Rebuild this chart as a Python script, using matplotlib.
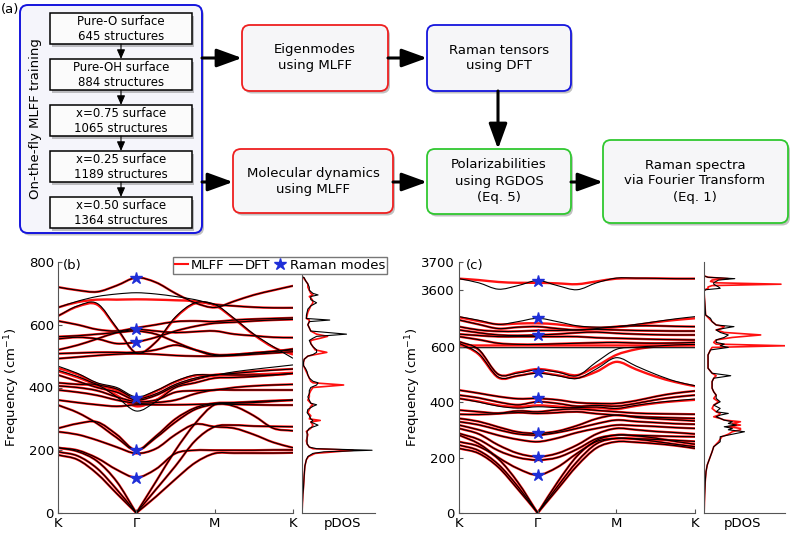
import numpy as np
import matplotlib
matplotlib.use("Agg")
import matplotlib.pyplot as plt
from matplotlib.path import Path
from matplotlib.patches import PathPatch, FancyBboxPatch, FancyArrowPatch
from matplotlib.lines import Line2D

plt.rcParams['font.family'] = ['DejaVu Sans']

# ---------------- data ----------------
k_points = [0, 0.25, 0.5, 0.75, 1, 1.25, 1.5, 1.75, 2, 2.25, 2.5, 2.75, 3]
k_ticks = [0, 1, 2, 3]
k_labels = ['K', 'Γ', 'M', 'K']
gamma_k = 1

# (b) bands, DFT
dft_b = [
    [185, 170, 125, 62, 0, 52, 108, 160, 190, 191, 191, 191, 192],
    [195, 182, 142, 75, 0, 75, 150, 230, 275, 280, 277, 276, 275],
    [208, 196, 165, 100, 0, 100, 200, 285, 345, 340, 310, 270, 262],
    [208, 200, 175, 138, 113, 140, 190, 200, 200, 200, 200, 201, 201],
    [259, 250, 232, 210, 190, 205, 250, 283, 275, 270, 250, 225, 208],
    [270, 285, 290, 250, 200, 240, 290, 330, 346, 346, 345, 344, 344],
    [344, 320, 285, 240, 200, 245, 300, 335, 350, 352, 355, 358, 360],
    [360, 352, 345, 340, 345, 345, 345, 346, 348, 350, 352, 356, 360],
    [392, 385, 375, 360, 350, 352, 360, 380, 392, 392, 392, 392, 392],
    [405, 400, 390, 370, 355, 360, 385, 390, 392, 400, 405, 408, 410],
    [415, 410, 408, 370, 325, 355, 400, 415, 430, 432, 435, 440, 445],
    [440, 420, 400, 385, 360, 375, 405, 425, 440, 440, 440, 440, 445],
    [455, 435, 410, 395, 365, 380, 410, 430, 440, 445, 450, 455, 459],
    [468, 445, 415, 400, 370, 390, 420, 440, 440, 450, 458, 465, 472],
    [492, 497, 502, 506, 508, 506, 502, 500, 500, 502, 506, 510, 514],
    [508, 510, 512, 512, 512, 520, 535, 520, 505, 505, 510, 515, 523],
    [520, 535, 555, 575, 585, 580, 575, 578, 580, 570, 565, 560, 559],
    [555, 560, 555, 540, 545, 560, 580, 595, 605, 608, 612, 615, 617],
    [562, 565, 570, 575, 580, 570, 545, 520, 502, 505, 510, 515, 520],
    [612, 600, 585, 580, 590, 600, 610, 612, 610, 615, 618, 620, 622],
    [628, 660, 668, 590, 510, 545, 625, 670, 665, 620, 570, 530, 493],
    [655, 675, 690, 698, 702, 698, 690, 680, 665, 660, 656, 654, 654],
    [720, 710, 705, 725, 750, 735, 700, 670, 655, 675, 695, 710, 724],
]
# (b) bands, MLFF (only the ones that differ visibly from DFT)
mlff_b = [row[:] for row in dft_b]
mlff_b[10] = [415, 410, 405, 375, 340, 360, 400, 415, 430, 432, 435, 440, 445]
mlff_b[12] = [452, 432, 408, 392, 362, 378, 408, 428, 438, 440, 442, 444, 447]
mlff_b[13] = [462, 442, 412, 395, 365, 388, 418, 438, 440, 446, 452, 456, 459]
mlff_b[20] = [628, 658, 664, 588, 510, 545, 622, 668, 662, 618, 568, 528, 505]
mlff_b[21] = [655, 672, 680, 680, 681, 680, 678, 675, 665, 660, 656, 654, 654]
raman_b = [113, 200, 365, 545, 585, 750]

# (c) bands, DFT
dft_c = [
    [233, 215, 165, 85, 0, 85, 170, 235, 257, 255, 250, 243, 233],
    [245, 225, 175, 95, 0, 95, 185, 250, 269, 266, 258, 248, 239],
    [257, 240, 195, 110, 0, 110, 205, 262, 281, 278, 270, 258, 248],
    [281, 250, 200, 160, 137, 165, 215, 258, 269, 268, 265, 262, 258],
    [287, 265, 225, 200, 191, 200, 230, 268, 281, 280, 278, 276, 275],
    [305, 285, 245, 215, 203, 215, 245, 285, 305, 300, 294, 290, 285],
    [317, 300, 280, 265, 257, 270, 290, 305, 317, 315, 312, 308, 305],
    [329, 318, 300, 285, 281, 290, 305, 322, 335, 330, 326, 322, 320],
    [341, 330, 310, 292, 287, 295, 315, 340, 353, 345, 340, 336, 332],
    [356, 355, 358, 362, 359, 362, 365, 358, 353, 348, 345, 343, 341],
    [371, 365, 360, 368, 365, 372, 375, 370, 365, 360, 358, 357, 356],
    [413, 400, 385, 378, 383, 380, 380, 382, 377, 388, 398, 405, 411],
    [425, 415, 400, 390, 401, 395, 385, 388, 385, 395, 408, 418, 425],
    [443, 432, 420, 412, 413, 408, 398, 395, 395, 405, 420, 432, 440],
    [612, 575, 490, 495, 504, 495, 485, 520, 560, 530, 500, 475, 459],
    [618, 590, 500, 505, 516, 508, 495, 545, 590, 598, 602, 606, 608],
    [596, 596, 596, 596, 596, 596, 596, 596, 596, 596, 596, 596, 596],
    [636, 625, 612, 608, 608, 610, 612, 614, 615, 613, 612, 613, 615],
    [645, 640, 636, 636, 636, 636, 636, 632, 630, 628, 626, 625, 624],
    [660, 650, 642, 640, 642, 645, 650, 652, 648, 645, 643, 642, 642],
    [672, 660, 655, 655, 658, 658, 660, 662, 660, 658, 657, 656, 656],
    [696, 680, 665, 670, 672, 665, 660, 665, 672, 675, 675, 673, 672],
    [708, 695, 680, 690, 702, 690, 675, 670, 672, 680, 690, 700, 708],
    [3640, 3625, 3602, 3615, 3633, 3615, 3600, 3625, 3642, 3642, 3641, 3640, 3640],
]
mlff_c = [row[:] for row in dft_c]
mlff_c[11] = [413, 402, 388, 382, 388, 384, 378, 380, 375, 386, 396, 403, 408]
mlff_c[14] = [612, 572, 488, 495, 506, 497, 487, 510, 545, 518, 492, 472, 457]
mlff_c[15] = [618, 588, 500, 507, 519, 510, 497, 530, 570, 590, 600, 604, 606]
mlff_c[16] = [604, 604, 604, 604, 604, 604, 604, 604, 604, 604, 604, 604, 604]
mlff_c[22] = [706, 692, 680, 683, 684, 680, 672, 668, 670, 678, 688, 696, 702]
mlff_c[23] = [3640, 3635, 3628, 3625, 3625, 3623, 3620, 3630, 3640, 3641, 3641, 3640, 3640]
raman_c = [137, 203, 287, 413, 510, 640, 702, 3633]

# pDOS (b)
freq_b = [0, 20, 40, 60, 80, 100, 120, 150, 160, 170,
          180, 190, 195, 200, 205, 210, 220, 230, 240, 250,
          260, 270, 280, 290, 295, 300, 310, 320, 330, 340,
          345, 350, 360, 370, 380, 390, 400, 408, 415, 420,
          430, 440, 450, 460, 470, 480, 490, 500, 505, 512,
          520, 530, 540, 550, 557, 563, 570, 580, 590, 600,
          610, 615, 620, 630, 640, 650, 660, 670, 680, 690,
          695, 700, 710, 720, 730, 740, 750, 753]
dos_b_dft = [0, .004, .008, .012, .02, .025, .03, .04, .05, .06,
             .08, .15, .3, .96, .2, .1, .07, .07, .07, .07,
             .07, .1, .22, .12, .15, .12, .1, .07, .08, .15,
             .2, .12, .1, .08, .1, .1, .12, .2, .22, .15,
             .1, .08, .07, .05, .02, .02, .03, .08, .15, .2,
             .2, .15, .12, .1, .15, .2, .61, .12, .1, .08,
             .1, .38, .06, .06, .07, .08, .12, .2, .12, .12,
             .22, .15, .1, .1, .08, .05, .03, 0]
dos_b_mlff = [0, .004, .008, .012, .02, .025, .03, .04, .05, .06,
              .09, .18, .45, .7, .15, .1, .07, .06, .07, .08,
              .06, .12, .15, .12, .25, .1, .12, .08, .1, .12,
              .15, .12, .08, .1, .1, .12, .15, .57, .15, .12,
              .1, .08, .06, .04, .02, .02, .03, .08, .18, .34,
              .18, .15, .12, .12, .25, .35, .2, .12, .1, .08,
              .1, .1, .06, .07, .08, .1, .12, .15, .14, .1,
              .15, .12, .1, .08, .08, .05, .02, 0]

# pDOS (c)
freq_c = [0, 5, 65, 113, 149, 173, 197, 221, 239, 257,
          275, 284, 293, 300, 305, 311, 317, 323, 329, 335,
          341, 347, 353, 359, 365, 377, 389, 401, 413, 425,
          437, 450, 462, 474, 486, 495, 504, 522, 546, 570,
          588, 597, 603, 609, 615, 624, 633, 642, 651, 660,
          666, 672, 678, 690, 702, 714, 3595, 3600, 3605, 3610,
          3615, 3620, 3625, 3630, 3635, 3640, 3645, 3650]
dos_c_dft = [0, .002, .008, .015, .025, .04, .07, .1, .12, .2,
             .2, .35, .5, .3, .35, .25, .4, .3, .35, .25,
             .2, .15, .2, .3, .15, .2, .12, .2, .15, .15,
             .12, .1, .1, .1, .12, .33, .1, .05, .05, .05,
             .08, .3, .2, .25, .15, .15, .25, .3, .2, .15,
             .25, .37, .15, .1, .08, .02, 0, .02, .2, .18,
             .15, .12, .12, .15, .18, .38, .05, 0]
dos_c_mlff = [0, .002, .008, .015, .025, .04, .07, .1, .12, .18,
              .22, .3, .35, .45, .45, .3, .45, .35, .45, .25,
              .2, .12, .18, .2, .15, .1, .12, .18, .12, .15,
              .12, .1, .1, .1, .12, .15, .1, .05, .05, .05,
              .08, .1, 1.0, .15, .12, .15, .35, .7, .25, .15,
              .22, .25, .15, .1, .06, .02, 0, .01, .05, .05,
              .1, .95, .15, .08, .1, .3, .05, 0]

RED = '#ff1010'
STAR = '#1f2fd8'


def band_path(xs, ys):
    # smooth curve through the read points, split where a branch touches 0
    xs = np.asarray(xs, float)
    ys = np.asarray(ys, float)
    n = len(xs)
    cuts = [0] + [i for i in range(1, n - 1) if ys[i] == 0] + [n - 1]
    verts, codes = [], []
    for a, b in zip(cuts[:-1], cuts[1:]):
        px, py = xs[a:b + 1], ys[a:b + 1]
        tx, ty = np.gradient(px), np.gradient(py)
        verts.append((px[0], py[0]))
        codes.append(Path.MOVETO)
        for i in range(len(px) - 1):
            verts += [(px[i] + tx[i] / 3, py[i] + ty[i] / 3),
                      (px[i + 1] - tx[i + 1] / 3, py[i + 1] - ty[i + 1] / 3),
                      (px[i + 1], py[i + 1])]
            codes += [Path.CURVE4] * 3
    return Path(verts, codes)


def fwd(v):
    v = np.asarray(v, float)
    return np.where(v < 760, v, np.maximum(v - 2795, 760))


def inv(y):
    y = np.asarray(y, float)
    return np.where(y < 760, y, y + 2795)


def style_axes(ax):
    for s in ['top', 'right']:
        ax.spines[s].set_visible(False)
    for s in ['left', 'bottom']:
        ax.spines[s].set_color('#555555')
        ax.spines[s].set_linewidth(0.8)
    ax.tick_params(direction='in', length=3, labelsize=9.5, color='#555555', pad=3)


def draw_bands(ax, dft, mlff, raman):
    for row in mlff:
        ax.add_patch(PathPatch(band_path(k_points, row), fc='none', ec=RED, lw=1.7))
    for row in dft:
        ax.add_patch(PathPatch(band_path(k_points, row), fc='none', ec='black', lw=0.8))
    ax.plot([gamma_k] * len(raman), raman, ls='none', marker='*', color=STAR, ms=9, zorder=5)
    ax.set_xlim(0, 3)
    ax.set_xticks(k_ticks)
    ax.set_xticklabels(k_labels)
    style_axes(ax)
    ax.set_ylabel('Frequency (cm$^{-1}$)', fontsize=9.5, va='center')
    ax.yaxis.set_label_coords(-0.196, 0.5)


def draw_dos(ax, freq, dft, mlff, label_x):
    ax.plot(mlff, freq, color=RED, lw=1.2)
    ax.plot(dft, freq, color='black', lw=0.8)
    ax.set_xlim(0, 1)
    style_axes(ax)
    ax.set_yticks([])
    ax.set_xticks([label_x])
    ax.set_xticklabels(['pDOS'])
    ax.tick_params(axis='x', length=0)


W, H = 794, 536
fig = plt.figure(figsize=(W / 100, H / 100), dpi=100)

# ---------------- flowchart (a) ----------------
axf = fig.add_axes([0, 0, 1, 1])
axf.set_xlim(0, W)
axf.set_ylim(H, 0)
axf.axis('off')


def box(x0, y0, x1, y1, ec, rounded=True, lw=1.3, fc='#f6f6f8'):
    style = 'round,pad=0,rounding_size=8' if rounded else 'square,pad=0'
    axf.add_patch(FancyBboxPatch((x0 + 2, y0 + 2.5), x1 - x0, y1 - y0, boxstyle=style,
                                 fc='#666666', ec='none', alpha=0.4))
    axf.add_patch(FancyBboxPatch((x0, y0), x1 - x0, y1 - y0, boxstyle=style,
                                 fc=fc, ec=ec, lw=lw))


def arrow(x0, y0, x1, y1, big=True):
    if big:
        style, lw, ms = '-|>,head_length=1.1,head_width=0.4', 2.2, 14
    else:
        style, lw, ms = '-|>,head_length=0.8,head_width=0.35', 0.8, 7
    axf.add_patch(FancyArrowPatch((x0, y0), (x1, y1), arrowstyle=style, lw=lw,
                                  color='black', shrinkA=0, shrinkB=0,
                                  mutation_scale=ms))


axf.text(1, 9, '(a)', fontsize=9.5, va='center', ha='left')

box(20, 5, 202, 233, '#1515dd', lw=1.4, fc='#f5f5fb')
axf.text(36, 119, 'On-the-fly MLFF training', rotation=90, fontsize=9.5,
         ha='center', va='center')

train_steps = ['Pure-O surface\n645 structures', 'Pure-OH surface\n884 structures',
               'x=0.75 surface\n1065 structures', 'x=0.25 surface\n1189 structures',
               'x=0.50 surface\n1364 structures']
step_tops = [13, 59, 105, 151, 197]
for i, (txt, top) in enumerate(zip(train_steps, step_tops)):
    box(50, top, 192, top + 31, 'black', rounded=False, lw=1.1, fc='#fbfbfb')
    axf.text(121, top + 16, txt, fontsize=8.5, ha='center', va='center', linespacing=1.2)
    if i < len(step_tops) - 1:
        arrow(121, top + 31, 121, step_tops[i + 1], big=False)

box(242, 25, 388, 91, '#ee2020')
axf.text(315, 58, 'Eigenmodes\nusing MLFF', fontsize=9.5, ha='center', va='center', linespacing=1.3)
box(233, 149, 393, 213, '#ee2020')
axf.text(313, 181, 'Molecular dynamics\nusing MLFF', fontsize=9.5, ha='center', va='center', linespacing=1.3)
box(427, 25, 571, 91, '#1515dd')
axf.text(499, 58, 'Raman tensors\nusing DFT', fontsize=9.5, ha='center', va='center', linespacing=1.3)
box(427, 149, 571, 214, '#30c830')
axf.text(499, 181, 'Polarizabilities\nusing RGDOS\n(Eq. 5)', fontsize=9.5, ha='center', va='center', linespacing=1.3)
box(603, 140, 788, 223, '#30c830')
axf.text(695, 181, 'Raman spectra\nvia Fourier Transform\n(Eq. 1)', fontsize=9.5, ha='center', va='center', linespacing=1.3)

arrow(202, 58, 242, 58)
arrow(202, 182, 233, 182)
arrow(388, 58, 427, 58)
arrow(498, 91, 498, 149)
arrow(393, 182, 427, 182)
arrow(571, 182, 603, 182)

# ---------------- panel (b) ----------------
ax_b = fig.add_axes([58 / W, 1 - 513 / H, 235 / W, 251 / H])
draw_bands(ax_b, dft_b, mlff_b, raman_b)
ax_b.set_ylim(0, 800)
ax_b.set_yticks([0, 200, 400, 600, 800])

ax_bd = fig.add_axes([302 / W, 1 - 513 / H, 73 / W, 251 / H])
draw_dos(ax_bd, freq_b, dos_b_dft, dos_b_mlff, 0.55)
ax_bd.set_ylim(0, 800)

# ---------------- panel (c) ----------------
ax_c = fig.add_axes([459 / W, 1 - 513 / H, 236 / W, 251 / H])
ax_c.set_yscale('function', functions=(fwd, inv))
draw_bands(ax_c, dft_c, mlff_c, raman_c)
ax_c.set_ylim(0, 3700)
ax_c.set_yticks([0, 200, 400, 600, 3600, 3700])
ax_c.set_yticklabels(['0', '200', '400', '600', '3600', '3700'])
ax_c.yaxis.set_minor_locator(matplotlib.ticker.NullLocator())

ax_cd = fig.add_axes([704 / W, 1 - 513 / H, 81 / W, 251 / H])
ax_cd.set_yscale('function', functions=(fwd, inv))
draw_dos(ax_cd, freq_c, dos_c_dft, dos_c_mlff, 0.48)
ax_cd.set_ylim(0, 3700)
ax_cd.set_yticks([])
ax_cd.yaxis.set_minor_locator(matplotlib.ticker.NullLocator())

fig.text(63 / W, 1 - 265 / H, '(b)', fontsize=9.5, va='center')
fig.text(466 / W, 1 - 265 / H, '(c)', fontsize=9.5, va='center')

handles = [Line2D([], [], color=RED, lw=1.5),
           Line2D([], [], color='black', lw=0.8),
           Line2D([], [], ls='none', marker='*', color=STAR, ms=9)]
fig.legend(handles, ['MLFF', 'DFT', 'Raman modes'], loc='upper right',
           bbox_to_anchor=(387 / W, 1 - 257 / H), ncol=3, frameon=True,
           fancybox=False, edgecolor='#777777', fontsize=9.5, handlelength=1.0,
           handletextpad=0.2, columnspacing=0.3, borderpad=0.15, borderaxespad=0,
           framealpha=1)

fig.savefig('out.png', dpi=100)
